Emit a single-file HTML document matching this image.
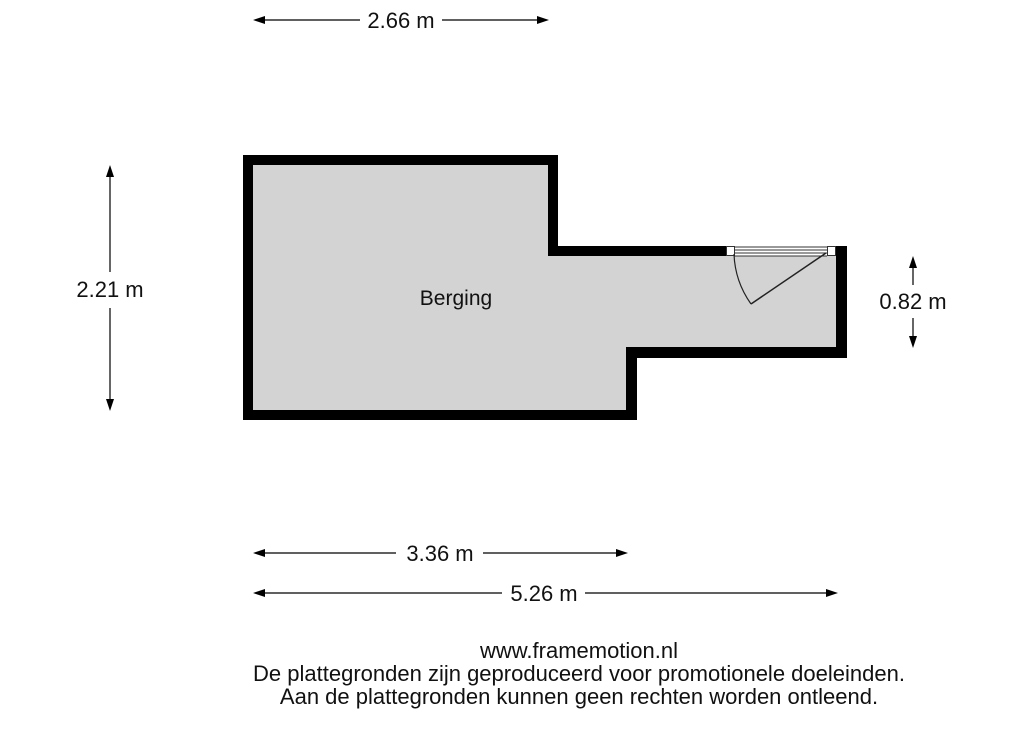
<!DOCTYPE html>
<html><head><style>html,body{margin:0;padding:0;background:#fff}</style></head><body>
<svg width="1024" height="724" viewBox="0 0 1024 724" xmlns="http://www.w3.org/2000/svg" font-family="Liberation Sans, sans-serif" font-size="22" fill="#111">
<polygon points="243,155 558,155 558,246 847,246 847,358 637,358 637,420 243,420" fill="#000"/>
<polygon points="253,165 548,165 548,256 836,256 836,347 626,347 626,410 253,410" fill="#d3d3d3"/>
<rect x="726" y="246" width="110" height="10" fill="#fff"/>
<rect x="726.5" y="246.5" width="8" height="9" fill="#fff" stroke="#333" stroke-width="1"/>
<rect x="827.5" y="246.5" width="8" height="9" fill="#fff" stroke="#333" stroke-width="1"/>
<line x1="734" y1="247" x2="827" y2="247" stroke="#333"/>
<line x1="734" y1="250" x2="827" y2="250" stroke="#333"/>
<line x1="734" y1="253" x2="827" y2="253" stroke="#333"/>
<line x1="734" y1="256" x2="827" y2="256" stroke="#333"/>
<line x1="826" y1="253" x2="751" y2="304" stroke="#222" stroke-width="1.5"/>
<path d="M734,254 A92,92 0 0 0 751,304" fill="none" stroke="#222" stroke-width="1.2"/>
<text x="456" y="305" text-anchor="middle" font-size="21">Berging</text>
<g stroke="#000" stroke-width="1.2" fill="none">
<line x1="260" y1="20" x2="360" y2="20"/>
<line x1="442" y1="20" x2="542" y2="20"/>
<line x1="110" y1="172" x2="110" y2="272"/>
<line x1="110" y1="308" x2="110" y2="404"/>
<line x1="913" y1="262" x2="913" y2="285"/>
<line x1="913" y1="318" x2="913" y2="341"/>
<line x1="260" y1="553" x2="396" y2="553"/>
<line x1="483" y1="553" x2="621" y2="553"/>
<line x1="260" y1="593" x2="502" y2="593"/>
<line x1="585" y1="593" x2="831" y2="593"/>
</g>
<g fill="#000">
<polygon points="253,20 265,16 265,24"/>
<polygon points="549,20 537,16 537,24"/>
<polygon points="110,165 106,177 114,177"/>
<polygon points="110,411 106,399 114,399"/>
<polygon points="913,256 909,268 917,268"/>
<polygon points="913,348 909,336 917,336"/>
<polygon points="253,553 265,549 265,557"/>
<polygon points="628,553 616,549 616,557"/>
<polygon points="253,593 265,589 265,597"/>
<polygon points="838,593 826,589 826,597"/>
</g>
<text x="401" y="28" text-anchor="middle">2.66 m</text>
<text x="110" y="297" text-anchor="middle">2.21 m</text>
<text x="913" y="309" text-anchor="middle">0.82 m</text>
<text x="440" y="561" text-anchor="middle">3.36 m</text>
<text x="544" y="601" text-anchor="middle">5.26 m</text>
<text x="579" y="658" text-anchor="middle">www.framemotion.nl</text>
<text x="579" y="681" text-anchor="middle">De plattegronden zijn geproduceerd voor promotionele doeleinden.</text>
<text x="579" y="704" text-anchor="middle">Aan de plattegronden kunnen geen rechten worden ontleend.</text>
</svg>
</body></html>
